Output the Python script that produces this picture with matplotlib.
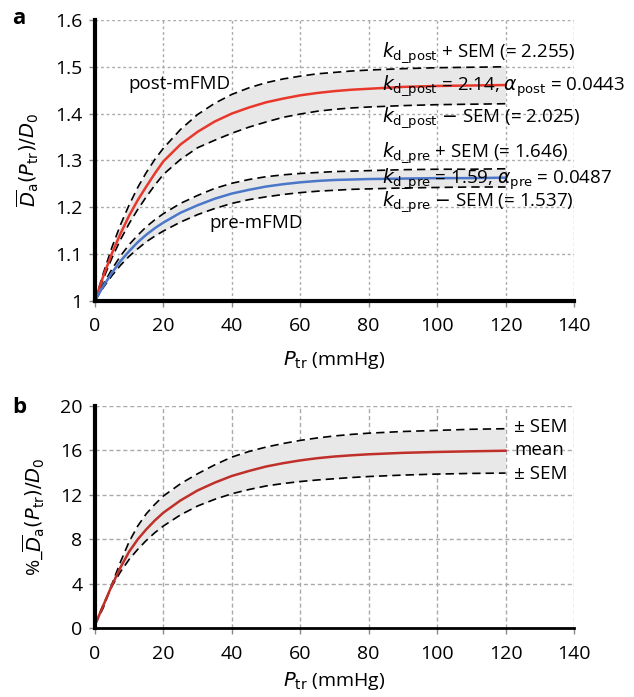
import matplotlib
matplotlib.use("Agg")
import matplotlib.pyplot as plt
import numpy as np

plt.rcParams['font.family'] = ['Open Sans', 'DejaVu Sans']
plt.rcParams['mathtext.fontset'] = 'dejavusans'

# pressure samples (mmHg)
p = [0, 2.5, 5, 7.5, 10, 12.5, 15, 17.5, 20, 25, 30, 35, 40, 45, 50, 55, 60, 65, 70, 75, 80,
     90, 100, 110, 120]

# panel a, post-mFMD
post_mean = [1.000, 1.054, 1.102, 1.144, 1.182, 1.215, 1.244, 1.272, 1.298, 1.334, 1.361, 1.383,
             1.400, 1.413, 1.424, 1.432, 1.439, 1.444, 1.448, 1.451, 1.453,
             1.457, 1.459, 1.460, 1.461]
post_hi = [1.000, 1.060, 1.115, 1.163, 1.205, 1.242, 1.274, 1.302, 1.326, 1.366, 1.398, 1.422,
           1.441, 1.455, 1.466, 1.474, 1.480, 1.485, 1.488, 1.491, 1.493,
           1.496, 1.498, 1.499, 1.500]
post_lo = [1.000, 1.048, 1.092, 1.131, 1.165, 1.195, 1.222, 1.247, 1.270, 1.302, 1.327, 1.343,
           1.358, 1.371, 1.382, 1.392, 1.399, 1.405, 1.409, 1.412, 1.414,
           1.417, 1.419, 1.420, 1.421]

# panel a, pre-mFMD
pre_mean = [1.000, 1.032, 1.060, 1.085, 1.106, 1.125, 1.141, 1.155, 1.167, 1.188, 1.204, 1.218,
            1.229, 1.237, 1.244, 1.249, 1.253, 1.256, 1.258, 1.259, 1.260,
            1.261, 1.262, 1.262, 1.263]
pre_hi = [1.000, 1.036, 1.068, 1.096, 1.120, 1.140, 1.158, 1.173, 1.186, 1.208, 1.225, 1.240,
          1.251, 1.259, 1.265, 1.269, 1.272, 1.274, 1.276, 1.277, 1.278,
          1.280, 1.281, 1.281, 1.282]
pre_lo = [1.000, 1.029, 1.054, 1.076, 1.095, 1.111, 1.126, 1.138, 1.149, 1.168, 1.184, 1.197,
          1.208, 1.216, 1.222, 1.227, 1.231, 1.234, 1.236, 1.238, 1.239,
          1.241, 1.242, 1.243, 1.243]

# panel b, percent change
pct_mean = [0.3, 2.1, 3.9, 5.5, 6.9, 8.0, 8.9, 9.7, 10.4, 11.5, 12.4, 13.1,
            13.7, 14.15, 14.55, 14.85, 15.1, 15.3, 15.45, 15.56, 15.65,
            15.78, 15.86, 15.92, 15.97]
pct_hi = [0.3, 1.9, 4.0, 6.0, 7.8, 9.2, 10.3, 11.15, 11.9, 13.0, 13.9, 14.7,
          15.4, 15.9, 16.3, 16.62, 16.9, 17.12, 17.3, 17.44, 17.55,
          17.7, 17.8, 17.9, 17.95]
pct_lo = [0.3, 2.2, 3.8, 5.1, 6.2, 7.1, 7.9, 8.6, 9.2, 10.2, 11.0, 11.6,
          12.1, 12.48, 12.8, 13.02, 13.2, 13.34, 13.45, 13.56, 13.65,
          13.78, 13.87, 13.93, 13.96]

xticks = [0, 20, 40, 60, 80, 100, 120, 140]
yticks_a = [1, 1.1, 1.2, 1.3, 1.4, 1.5, 1.6]
yticks_b = [0, 4, 8, 12, 16, 20]

labels_a = [r'$k_{\mathrm{d\_post}}$ + SEM (= 2.255)',
            r'$k_{\mathrm{d\_post}}$ = 2.14, $\alpha_{\mathrm{post}}$ = 0.0443',
            r'$k_{\mathrm{d\_post}}$ $-$ SEM (= 2.025)',
            r'$k_{\mathrm{d\_pre}}$ + SEM (= 1.646)',
            r'$k_{\mathrm{d\_pre}}$ = 1.59, $\alpha_{\mathrm{pre}}$ = 0.0487',
            r'$k_{\mathrm{d\_pre}}$ $-$ SEM (= 1.537)']
label_y_a = [1.530, 1.459, 1.391, 1.317, 1.260, 1.211]
labels_b = ['± SEM', 'mean', '± SEM']
label_y_b = [18.07, 16.0, 13.9]

fig = plt.figure(figsize=(6.34, 6.97), dpi=100)
ax1 = fig.add_axes([0.1498, 0.5686, 0.7555, 0.4027])
ax2 = fig.add_axes([0.1498, 0.0986, 0.7555, 0.319])

dash = (0, (5, 3))


def style(ax, yticks, grid_ls, bottom_lw, xpad):
    ax.set_xlim(0, 140)
    ax.set_ylim(yticks[0], yticks[-1])
    ax.set_xticks(xticks)
    ax.set_yticks(yticks)
    ax.set_yticklabels(['%g' % v for v in yticks])
    ax.grid(True, color='#aaaaaa', linestyle=grid_ls, linewidth=1)
    ax.set_axisbelow(True)
    for s in ['top', 'right']:
        ax.spines[s].set_visible(False)
    ax.spines['left'].set_linewidth(3)
    ax.spines['bottom'].set_linewidth(bottom_lw)
    ax.tick_params(direction='out', length=4, width=1, color='#888888',
                   labelsize=14)
    ax.tick_params(axis='x', pad=8)
    ax.tick_params(axis='y', pad=5)
    ax.set_xlabel(r'$P_{\mathrm{tr}}$ (mmHg)', fontsize=14, labelpad=xpad)


# panel a
ax1.fill_between(p, post_lo, post_hi, color='#e8e8e8', lw=0)
ax1.fill_between(p, pre_lo, pre_hi, color='#e8e8e8', lw=0)
ax1.plot(p, post_hi, color='black', ls=dash, lw=1.2)
ax1.plot(p, post_lo, color='black', ls=dash, lw=1.2)
ax1.plot(p, pre_hi, color='black', ls=dash, lw=1.2)
ax1.plot(p, pre_lo, color='black', ls=dash, lw=1.2)
ax1.plot(p, post_mean, color='#e8382b', lw=1.8)
ax1.plot(p, pre_mean, color='#4a77c8', lw=1.8)
style(ax1, yticks_a, (0, (2, 2)), 3, 10)
ax1.set_ylabel(r'$\overline{D}_{\mathrm{a}}(P_{\mathrm{tr}})/D_0$', fontsize=14, labelpad=10)
ax1.text(24.8, 1.463, 'post-mFMD', fontsize=13.5, ha='center', va='center')
ax1.text(47.2, 1.165, 'pre-mFMD', fontsize=13.5, ha='center', va='center')
for s, y in zip(labels_a, label_y_a):
    ax1.text(84, y, s, fontsize=13.5, ha='left', va='center', clip_on=False)

# panel b
ax2.fill_between(p, pct_lo, pct_hi, color='#e8e8e8', lw=0)
ax2.plot(p, pct_hi, color='black', ls=dash, lw=1.2)
ax2.plot(p, pct_lo, color='black', ls=dash, lw=1.2)
ax2.plot(p, pct_mean, color='#c0302a', lw=1.8)
style(ax2, yticks_b, (0, (3, 2)), 2, 5)
ax2.set_ylabel(r'%_$\overline{D}_{\mathrm{a}}(P_{\mathrm{tr}})/D_0$', fontsize=14, labelpad=10)
for s, y in zip(labels_b, label_y_b):
    ax2.text(122.5, y, s, fontsize=13.5, ha='left', va='center')

fig.text(0.019, 0.974, 'a', fontsize=16, fontweight='bold', va='center')
fig.text(0.019, 0.416, 'b', fontsize=16, fontweight='bold', va='center')

fig.savefig('out.png', dpi=100)
